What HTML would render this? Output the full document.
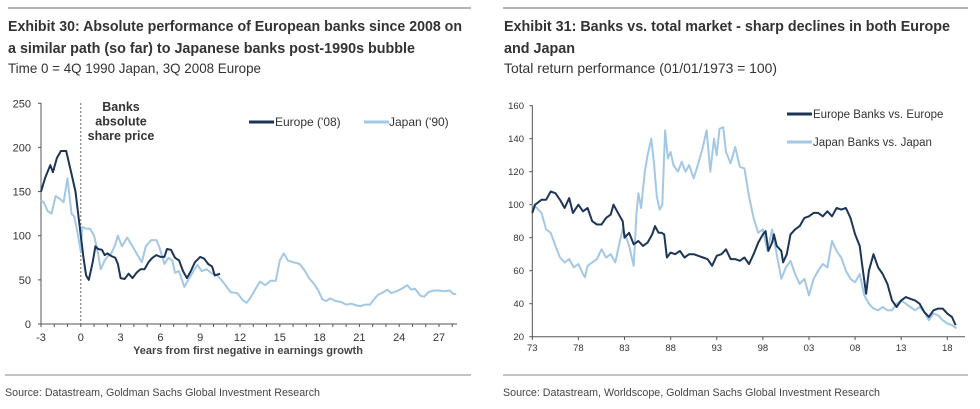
<!DOCTYPE html>
<html><head><meta charset="utf-8"><style>
html,body{margin:0;padding:0;background:#fff;width:980px;height:409px;overflow:hidden}
svg text{font-family:"Liberation Sans Narrow","Liberation Sans",sans-serif}
</style></head><body>
<svg id="s" width="980" height="409" viewBox="0 0 980 409" xmlns="http://www.w3.org/2000/svg">
<line x1="8" y1="8" x2="471" y2="8" stroke="#666" stroke-width="1"/>
<line x1="503" y1="8" x2="968" y2="8" stroke="#666" stroke-width="1"/>
<text x="8" y="31" font-size="15" font-weight="bold" fill="#333" textLength="454" lengthAdjust="spacingAndGlyphs">Exhibit 30: Absolute performance of European banks since 2008 on</text>
<text x="8" y="53" font-size="15" font-weight="bold" fill="#333" textLength="407" lengthAdjust="spacingAndGlyphs">a similar path (so far) to Japanese banks post-1990s bubble</text>
<text x="8" y="73" font-size="14" fill="#333" textLength="253" lengthAdjust="spacingAndGlyphs">Time 0 = 4Q 1990 Japan, 3Q 2008 Europe</text>
<text x="504" y="31" font-size="15" font-weight="bold" fill="#333" textLength="446" lengthAdjust="spacingAndGlyphs">Exhibit 31: Banks vs. total market - sharp declines in both Europe</text>
<text x="504" y="53" font-size="15" font-weight="bold" fill="#333" textLength="71" lengthAdjust="spacingAndGlyphs">and Japan</text>
<text x="504" y="73" font-size="14" fill="#333" textLength="273" lengthAdjust="spacingAndGlyphs">Total return performance (01/01/1973 = 100)</text>
<line x1="5" y1="375" x2="471" y2="375" stroke="#888"/>
<line x1="503" y1="375" x2="968" y2="375" stroke="#888"/>
<text x="5" y="396" font-size="11" fill="#444" textLength="315" lengthAdjust="spacingAndGlyphs">Source: Datastream, Goldman Sachs Global Investment Research</text>
<text x="503" y="396" font-size="11" fill="#444" textLength="377" lengthAdjust="spacingAndGlyphs">Source: Datastream, Worldscope, Goldman Sachs Global Investment Research</text>
<g id="left"></g>
<g id="right"></g>
</svg>
<script>
// Left chart data
const leftXTicks = [-3,0,3,6,9,12,15,18,21,24,27];
const leftYTicks = [0,50,100,150,200,250];
const euroX = [-3,-2.7,-2.3,-2.1,-1.8,-1.5,-1.1,-0.7,-0.4,0,0.2,0.4,0.6,0.9,1.1,1.3,1.6,1.8,2.0,2.3,2.6,2.8,3.0,3.3,3.6,3.9,4.2,4.5,4.8,5.1,5.4,5.7,6.0,6.3,6.5,6.8,7.1,7.4,7.7,8.0,8.3,8.6,9.0,9.3,9.6,9.9,10.1,10.5];
const euroY = [150,165,180,172,188,196,196,170,150,100,75,55,50,70,88,85,84,78,80,77,75,68,52,51,57,52,58,62,62,70,75,78,76,76,85,84,75,72,60,52,60,70,76,74,68,65,55,57];
const japanX = [-3,-2.8,-2.5,-2.2,-1.9,-1.6,-1.3,-1.0,-0.7,-0.5,-0.2,0,0.1,0.4,0.7,1.0,1.3,1.5,1.8,2.1,2.3,2.6,2.8,3.1,3.5,3.9,4.2,4.6,4.9,5.3,5.7,5.9,6.3,6.6,6.9,7.1,7.4,7.8,8.1,8.5,8.8,9.1,9.5,9.9,10.3,10.6,11.0,11.3,11.8,12.2,12.5,12.8,13.1,13.5,13.9,14.3,14.7,15.0,15.3,15.6,16.0,16.5,16.9,17.2,17.6,17.9,18.2,18.5,18.8,19.2,19.6,20.0,20.4,20.8,21.1,21.4,21.8,22.1,22.4,22.8,23.1,23.4,23.8,24.2,24.6,24.9,25.2,25.6,25.9,26.2,26.6,27.0,27.4,27.8,28.1,28.3];
const japanY = [140,138,128,125,145,142,138,165,125,122,100,82,110,108,108,100,80,62,72,78,80,90,100,88,98,88,80,70,88,95,95,88,68,75,72,58,60,42,50,60,67,60,62,57,55,50,42,36,35,27,24,30,38,48,44,49,49,72,80,72,70,68,60,52,45,38,28,26,29,26,25,22,23,21,20,22,22,28,33,36,39,35,37,40,44,39,40,32,31,36,38,38,37,38,34,34];
// Right chart data
const rightXTickVals = [73,78,83,88,93,98,103,108,113,118];
const rightXTickLabels = ['73','78','83','88','93','98','03','08','13','18'];
const rightYTicks = [20,40,60,80,100,120,140,160];
const eurBankX = [73,73.3,74,74.5,75,75.5,76,76.5,77,77.4,78,78.5,79,79.5,80,80.5,81,81.5,81.8,82.2,82.8,83,83.5,84,84.5,85,85.5,86,86.3,86.7,87,87.3,87.6,88,88.5,89,89.5,90,90.5,91,91.5,92,92.5,93,93.5,94,94.5,95,95.5,96,96.5,97,97.5,98,98.3,98.6,99,99.2,99.5,100,100.2,100.6,101,101.5,102,102.5,103,103.5,104,104.5,105,105.5,106,106.5,107,107.5,108,108.5,108.8,109.2,109.5,110,110.5,111,111.5,112,112.5,113,113.5,114,114.5,115,115.5,116,116.5,117,117.5,118,118.5,118.9];
const eurBankY = [95,100,103,103,108,107,103,98,104,95,100,96,98,90,88,88,92,94,100,96,90,80,83,76,78,75,77,82,87,83,83,82,68,71,70,72,68,70,70,69,68,67,63,69,70,73,67,67,66,68,64,70,77,82,84,72,77,82,75,72,65,70,82,85,87,92,93,95,95,93,96,93,98,97,98,92,82,75,62,46,60,70,62,58,52,42,38,42,44,43,42,40,35,32,36,37,37,34,32,27];
const jpBankX = [73,73.5,74,74.5,75,75.5,76,76.5,77,77.5,78,78.5,78.7,79,79.5,80,80.5,81,81.5,82,82.5,82.8,83.2,83.5,84,84.3,84.5,84.8,85.2,85.5,85.9,86.2,86.5,86.8,87.1,87.4,87.7,88,88.3,88.8,89.2,89.6,90,90.5,91,91.5,91.9,92.3,92.7,93,93.3,93.7,94,94.5,95,95.5,96,96.5,97,97.5,98,98.5,99,99.5,100,100.5,101,101.5,102,102.5,103,103.5,104,104.5,105,105.5,106,106.5,107,107.5,108,108.5,109,109.5,110,110.5,111,111.5,112,112.5,113,113.5,114,114.5,115,115.5,116,116.5,117,117.5,118,118.5,119];
const jpBankY = [100,98,95,85,83,75,68,65,67,62,64,58,56,63,65,67,73,68,70,65,78,85,80,75,63,95,107,98,120,130,140,125,105,97,100,145,128,132,124,120,126,120,124,116,125,135,145,120,140,130,146,147,132,125,135,123,122,105,92,83,85,72,85,70,55,62,66,58,52,55,45,55,60,64,62,78,72,68,60,55,53,58,45,40,37,36,38,36,36,40,42,40,38,36,38,35,30,34,33,30,28,27,25];

const NS='http://www.w3.org/2000/svg';
function mk(parent,tag,attrs,txt){const e=document.createElementNS(NS,tag);for(const k in attrs)e.setAttribute(k,attrs[k]);if(txt!==undefined)e.textContent=txt;parent.appendChild(e);return e;}
function pathD(xs,ys,fx,fy){return xs.map((x,i)=>(i?'L':'M')+fx(x).toFixed(1)+','+fy(ys[i]).toFixed(1)).join('');}
const DARK='#1c3557', LIGHT='#a3c8e6', AX='#555';

// LEFT
(function(){
const g=document.getElementById('left');
const lx=v=>41+(v+3)*(398/30), ly=v=>324-v*(220.7/250);
const ax=mk(g,'line',{x1:lx(-3),y1:103,x2:lx(-3),y2:324,stroke:AX});


const bx=mk(g,'line',{x1:lx(-3),y1:324,x2:457,y2:324,stroke:AX});


leftYTicks.forEach(v=>{
  const t=mk(g,'text',{x:31,y:ly(v)+4,'font-size':11,'text-anchor':'end',fill:'#333'},String(v));
  
  
  mk(g,'line',{x1:lx(-3)-3,y1:ly(v),x2:lx(-3),y2:ly(v),stroke:AX});
});
for(let v=-3;v<=28;v++){mk(g,'line',{x1:lx(v),y1:324,x2:lx(v),y2:327,stroke:AX});}
leftXTicks.forEach(v=>{
  const t=mk(g,'text',{x:lx(v),y:341,'font-size':11,'text-anchor':'middle',fill:'#333'},String(v));
  
  
});
const xt=mk(g,'text',{x:248,y:354,'font-size':11,'font-weight':'bold','text-anchor':'middle',fill:'#444'},'Years from first negative in earnings growth');


const dl=mk(g,'line',{x1:lx(0),y1:103,x2:lx(0),y2:324,stroke:'#666','stroke-dasharray':'2,2'});


['Banks','absolute','share price'].forEach((s,i)=>{
  const t=mk(g,'text',{x:121,y:111+i*14.5,'font-size':12.5,'font-weight':'bold','text-anchor':'middle',fill:'#333'},s);
  
  
});
const pj=mk(g,'path',{d:pathD(japanX,japanY,lx,ly),fill:'none',stroke:LIGHT,'stroke-width':2,'stroke-linejoin':'round'});


const pe=mk(g,'path',{d:pathD(euroX,euroY,lx,ly),fill:'none',stroke:DARK,'stroke-width':2,'stroke-linejoin':'round'});


const l1=mk(g,'line',{x1:249,y1:122,x2:274,y2:122,stroke:DARK,'stroke-width':3});


const t1=mk(g,'text',{x:275,y:126,'font-size':12,fill:'#333'},"Europe ('08)");


const l2=mk(g,'line',{x1:364,y1:122,x2:389,y2:122,stroke:LIGHT,'stroke-width':3});


const t2=mk(g,'text',{x:389,y:126,'font-size':12,fill:'#333'},"Japan ('90)");


})();

// RIGHT
(function(){
const g=document.getElementById('right');
const rx=v=>532.3+(v-73)*(415/45), ry=v=>336.7-(v-20)*(231/140);
const ax=mk(g,'line',{x1:rx(73),y1:105,x2:rx(73),y2:336.7,stroke:AX});


const bx=mk(g,'line',{x1:rx(73),y1:336.7,x2:965,y2:336.7,stroke:AX});


rightYTicks.forEach(v=>{
  const t=mk(g,'text',{x:524,y:ry(v)+3.5,'font-size':9.5,'text-anchor':'end',fill:'#333'},String(v));
  
  
  mk(g,'line',{x1:rx(73)-3,y1:ry(v),x2:rx(73),y2:ry(v),stroke:AX});
});
rightXTickVals.forEach((v,i)=>{
  mk(g,'line',{x1:rx(v),y1:336.7,x2:rx(v),y2:340,stroke:AX});
  const t=mk(g,'text',{x:rx(v),y:351,'font-size':9.5,'text-anchor':'middle',fill:'#333'},rightXTickLabels[i]);
  
  
});
const pj=mk(g,'path',{d:pathD(jpBankX,jpBankY,rx,ry),fill:'none',stroke:LIGHT,'stroke-width':2,'stroke-linejoin':'round'});


const pe=mk(g,'path',{d:pathD(eurBankX,eurBankY,rx,ry),fill:'none',stroke:DARK,'stroke-width':2,'stroke-linejoin':'round'});


const l1=mk(g,'line',{x1:787,y1:114,x2:812,y2:114,stroke:DARK,'stroke-width':3});


const t1=mk(g,'text',{x:813,y:118,'font-size':11.5,fill:'#333'},'Europe Banks vs. Europe');


const l2=mk(g,'line',{x1:787,y1:142,x2:812,y2:142,stroke:LIGHT,'stroke-width':3});


const t2=mk(g,'text',{x:813,y:146,'font-size':11.5,fill:'#333'},'Japan Banks vs. Japan');


})();
</script>
</body></html>
